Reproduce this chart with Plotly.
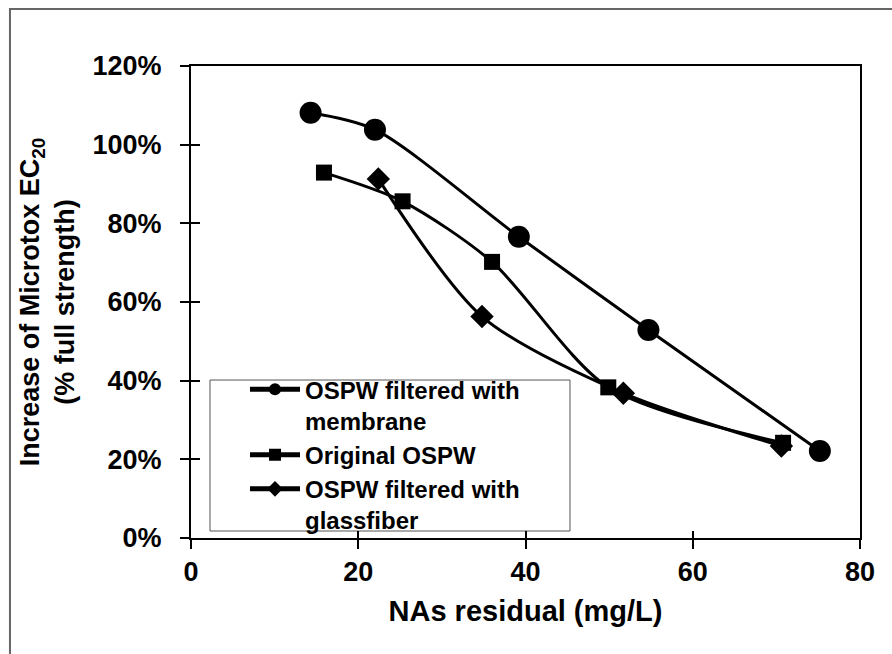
import plotly.graph_objects as go

# Data
mem_x = [14.3, 22.0, 39.2, 54.7, 75.2]
mem_y = [108.1, 103.8, 76.6, 52.9, 22.1]
orig_x = [15.9, 25.3, 36.0, 49.9, 70.8]
orig_y = [92.9, 85.6, 70.2, 38.3, 24.2]
glass_x = [22.4, 34.8, 51.7, 70.6]
glass_y = [91.3, 56.3, 36.8, 23.4]

names = ["OSPW filtered with<br>membrane", "Original OSPW", "OSPW filtered with<br>glassfiber"]
x_ticks = [0, 20, 40, 60, 80]
y_ticks = [0, 20, 40, 60, 80, 100, 120]
y_ticklabels = [f"{v}%" for v in y_ticks]

FONT = "Liberation Sans, Arial, sans-serif"

fig = go.Figure()
fig.add_trace(go.Scatter(x=mem_x, y=mem_y, name=names[0], mode="lines+markers",
                         line=dict(color="black", width=3, shape="spline", smoothing=0.8),
                         marker=dict(symbol="circle", size=22, color="black")))
fig.add_trace(go.Scatter(x=orig_x, y=orig_y, name=names[1], mode="lines+markers",
                         line=dict(color="black", width=3, shape="spline", smoothing=0.8),
                         marker=dict(symbol="square", size=16, color="black")))
fig.add_trace(go.Scatter(x=glass_x, y=glass_y, name=names[2], mode="lines+markers",
                         line=dict(color="black", width=3, shape="spline", smoothing=0.8),
                         marker=dict(symbol="diamond", size=18, color="black")))
# empty trace to activate overlay axes for inner tick halves
fig.add_trace(go.Scatter(x=[], y=[], xaxis="x2", yaxis="y2", showlegend=False, hoverinfo="skip"))

tickfont = dict(family=FONT, size=27, color="black", weight="bold")

fig.update_layout(
    width=892, height=654,
    margin=dict(l=191, r=32, t=66, b=116),
    paper_bgcolor="white", plot_bgcolor="white",
    showlegend=True,
    legend=dict(x=0.0284, y=0.362, xanchor="left", yanchor="top",
                bgcolor="rgba(0,0,0,0)", borderwidth=0,
                font=dict(family=FONT, size=24, color="black", weight="bold"),
                valign="top", itemsizing="constant", tracegroupgap=0,
                indentation=35, itemwidth=50),
    xaxis=dict(range=[0, 80], tickvals=x_ticks, ticks="outside", ticklen=9, tickwidth=1.5,
               tickcolor="black", showline=True, linecolor="black", linewidth=2, mirror=True,
               showgrid=False, zeroline=False, tickfont=tickfont,
               title=dict(text="NAs residual (mg/L)", standoff=14,
                          font=dict(family=FONT, size=29, color="black", weight="bold"))),
    yaxis=dict(range=[0, 120], tickvals=y_ticks, ticktext=y_ticklabels, ticks="outside",
               ticklen=9, tickwidth=1.5, tickcolor="black", showline=True, linecolor="black",
               linewidth=2, mirror=True, showgrid=False, zeroline=False, tickfont=tickfont,
               ticklabelstandoff=13,
               title=dict(text="Increase of Microtox EC<sub>20</sub><br>(% full strength)",
                          standoff=10,
                          font=dict(family=FONT, size=27, color="black", weight="bold"))),
    xaxis2=dict(range=[0, 80], tickvals=x_ticks, ticks="inside", ticklen=7, tickwidth=1.5,
                tickcolor="black", showticklabels=False, showgrid=False, zeroline=False,
                overlaying="x", anchor="y2", side="bottom", showline=False),
    yaxis2=dict(range=[0, 120], tickvals=y_ticks, ticks="inside", ticklen=9, tickwidth=1.5,
                tickcolor="black", showticklabels=False, showgrid=False, zeroline=False,
                overlaying="y", anchor="x2", side="left", showline=False),
    shapes=[
        dict(type="rect", xref="paper", yref="paper", x0=-0.2706, x1=1.08,
             y0=-0.28, y1=1.1208, line=dict(color="#666666", width=2),
             fillcolor="rgba(0,0,0,0)", layer="below"),
        dict(type="rect", xref="paper", yref="paper", x0=0.0284, x1=0.5665,
             y0=0.0148, y1=0.3347, line=dict(color="#555555", width=1),
             fillcolor="white", layer="below"),
    ],
)

fig.write_html("out.html")
